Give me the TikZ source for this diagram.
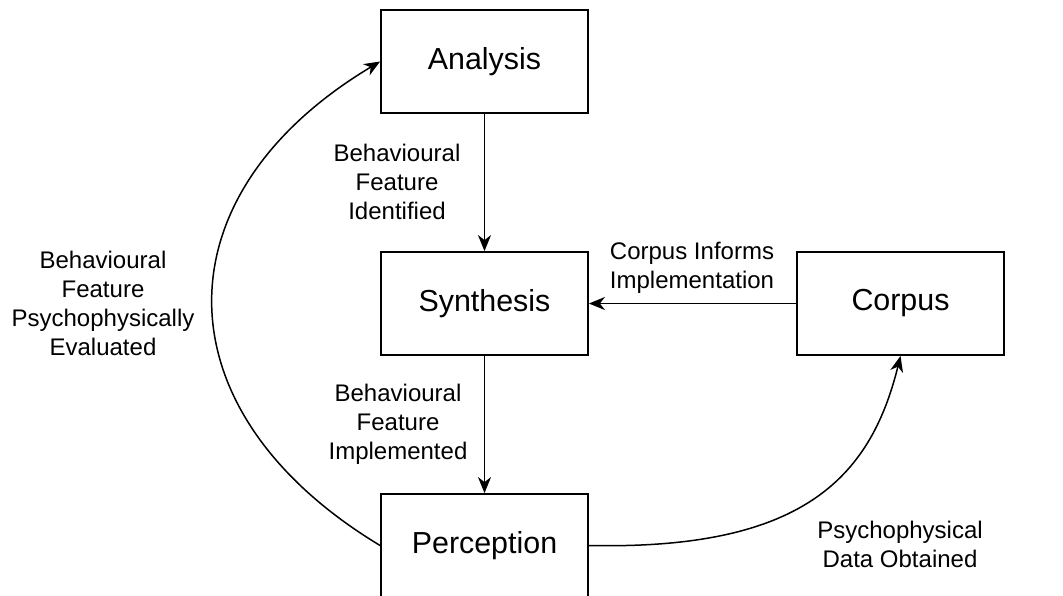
\documentclass[tikz,border=0pt]{standalone}
\usepackage{fontspec}
\setmainfont{Liberation Sans}
\usetikzlibrary{arrows.meta}

\tikzset{
  stage/.style={draw, line width=0.9pt, minimum width=103.5pt, minimum height=51.5pt,
    font=\fontsize{15.2}{18}\selectfont},
  lbl/.style={align=center, font=\fontsize{12}{14.5}\selectfont},
  flow/.style={line width=0.75pt, -{Stealth[length=8pt,width=6.5pt,inset=2.5pt]}}
}

\begin{document}
\begin{tikzpicture}[x=0.5pt,y=-0.5pt]
 \clip (0,0) rectangle (1063,595);
 \fill[white] (0,0) rectangle (1063,595);

 \node[stage] (Ana) at (484.5,61.5) {Analysis};
 \node[stage] (Syn) at (484.5,303.5) {Synthesis};
 \node[stage] (Per) at (484.5,545.5) {Perception};
 \node[stage] (Cor) at (900.5,303.5) {Corpus};

 \node[lbl] (L1) at (397,182) {Behavioural\\Feature\\Identified};
 \node[lbl] (L2) at (398,424.5) {Behavioural\\Feature\\Implemented};
 \node[lbl] (L3) at (692,267.5) {Corpus Informs\\Implementation};
 \node[lbl] (L4) at (103,303.5) {Behavioural\\Feature\\Psychophysically\\Evaluated};
 \node[lbl] (L5) at (900,544.5) {Psychophysical\\Data Obtained};

 \draw [flow](Ana) --(Syn);
 \draw [flow](Syn) --(Per);
 \draw [flow](Cor) --(Syn);
 \draw [flow](Per.west) .. controls (157,411) and (157,195) .. (Ana.west);
 \draw [flow](Per.east) .. controls (800,550) and (870,480) .. (Cor.south);

\end{tikzpicture}
\end{document}
